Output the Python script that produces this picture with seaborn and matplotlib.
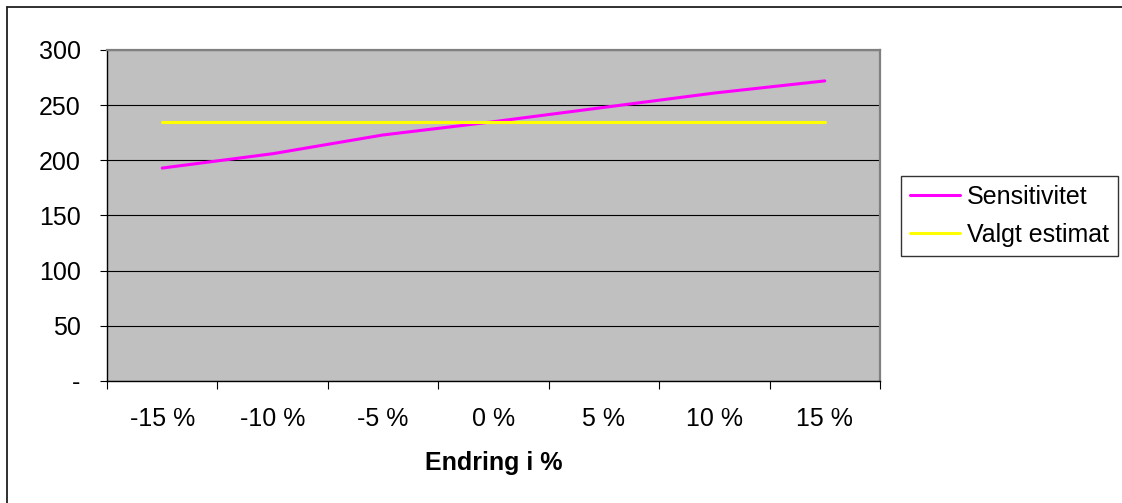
import matplotlib
matplotlib.use("Agg")
import matplotlib.pyplot as plt
from matplotlib.lines import Line2D
from matplotlib.ticker import FixedLocator
import pandas as pd
import seaborn as sns

# Data
categories = ["-15 %", "-10 %", "-5 %", "0 %", "5 %", "10 %", "15 %"]
sensitivitet = [193, 206, 223, 235, 248, 261, 272]
valgt_estimat = [235, 235, 235, 235, 235, 235, 235]
series_names = ["Sensitivitet", "Valgt estimat"]
y_ticks = [0, 50, 100, 150, 200, 250, 300]
y_tick_labels = ["-", "50", "100", "150", "200", "250", "300"]

df = pd.DataFrame({
    "Endring": categories * 2,
    "Verdi": sensitivitet + valgt_estimat,
    "Serie": [series_names[0]] * len(categories) + [series_names[1]] * len(categories),
})

sns.set_theme(style="white")
plt.rcParams["font.family"] = ["Liberation Sans", "DejaVu Sans"]
plt.rcParams["text.color"] = "black"
plt.rcParams["xtick.color"] = "black"
plt.rcParams["ytick.color"] = "black"
plt.rcParams["axes.labelcolor"] = "black"
FS = 18

fig = plt.figure(figsize=(11.22, 5.03), dpi=100)
ax = fig.add_axes([107 / 1122, 1 - 381 / 503, (880 - 107) / 1122, (381 - 50) / 503])
ax.set_facecolor("#C0C0C0")

sns.lineplot(
    data=df, x="Endring", y="Verdi", hue="Serie", sort=False,
    palette={"Sensitivitet": "#FF00FF", "Valgt estimat": "#FFFF00"},
    linewidth=2.2, ax=ax, legend=True, zorder=3,
)

ax.set_xlim(-0.5, len(categories) - 0.5)
ax.set_ylim(0, 300)

# y axis
ax.set_yticks(y_ticks)
ax.set_yticklabels(y_tick_labels, fontsize=FS)
ax.yaxis.grid(True, color="black", linewidth=0.8)
ax.set_axisbelow(True)
ax.tick_params(axis="y", direction="out", length=5, width=0.8, color="black", pad=14, left=True)

# x axis: labels centred in categories, ticks between them
ax.set_xticks(range(len(categories)))
ax.set_xticklabels(categories, fontsize=FS)
ax.xaxis.set_minor_locator(FixedLocator([i - 0.5 for i in range(len(categories) + 1)]))
ax.tick_params(axis="x", which="major", length=0, pad=19)
ax.tick_params(axis="x", which="minor", direction="out", length=6, width=0.8, color="black", bottom=True)
ax.set_xlabel("Endring i %", fontsize=FS, fontweight="bold", labelpad=14)
ax.set_ylabel("")

for side in ("left", "bottom"):
    ax.spines[side].set_color("black")
    ax.spines[side].set_linewidth(1.0)
for side in ("top", "right"):
    ax.spines[side].set_color("#808080")
    ax.spines[side].set_linewidth(1.6)

# legend
handles, labels = ax.get_legend_handles_labels()
ax.get_legend().remove()
leg = fig.legend(
    handles, labels, loc="center left",
    bbox_to_anchor=(901 / 1122, 1 - 216 / 503),
    fontsize=FS, frameon=True, fancybox=False, edgecolor="black",
    handlelength=2.0, handletextpad=0.3, borderpad=0.35, labelspacing=0.55,
    borderaxespad=0,
)
leg.get_frame().set_linewidth(1.0)

# chart area border (left and top edges)
fig.add_artist(Line2D([7 / 1122, 7 / 1122], [0, 1 - 7 / 503], transform=fig.transFigure,
                      color="#202020", linewidth=1.3))
fig.add_artist(Line2D([7 / 1122, 1], [1 - 7 / 503, 1 - 7 / 503], transform=fig.transFigure,
                      color="#202020", linewidth=1.3))

fig.savefig("out.png", dpi=100, facecolor="white")
